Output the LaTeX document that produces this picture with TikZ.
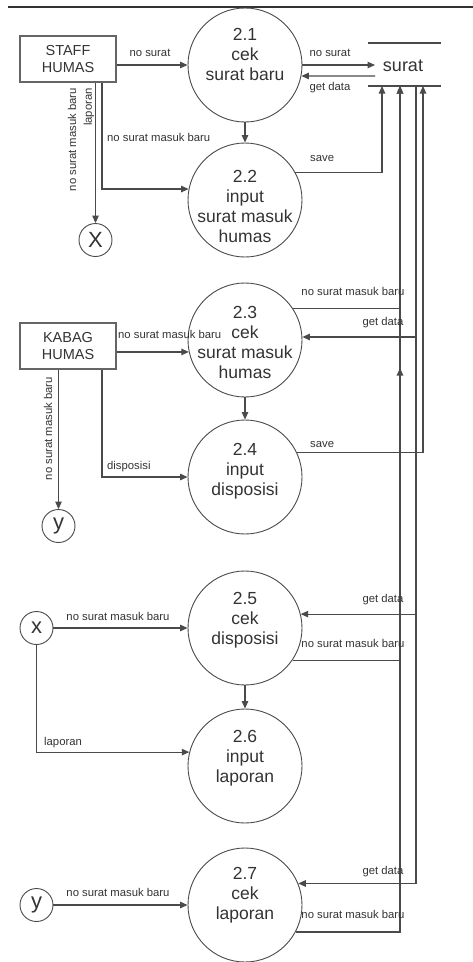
\documentclass[tikz,border=0pt]{standalone}
\usepackage{fontspec}
\setmainfont{Liberation Sans}
\usetikzlibrary{arrows.meta}
\definecolor{ln}{HTML}{4A4A4A}
\definecolor{tx}{HTML}{333333}
\begin{document}
\begin{tikzpicture}[x=1pt,y=-1pt,
  line/.style={draw=ln, line width=1.1pt},
  arr/.style={line, -{Triangle[length=7.5pt,width=6.5pt]}},
  proc/.style={circle, draw=ln, line width=0.9pt, minimum size=114pt, inner sep=0pt},
  ptext/.style={text=tx, align=center, font=\fontsize{17.5}{20}\selectfont},
  ent/.style={draw=ln!85, line width=1.3pt, minimum width=96pt, minimum height=46pt, inner sep=0pt, align=center, text=tx, font=\fontsize{14.5}{16.5}\selectfont},
  conn/.style={circle, draw=ln, line width=0.9pt, minimum size=33pt, inner sep=0pt, text=tx, font=\fontsize{22}{22}\selectfont},
  lbl/.style={text=tx, font=\fontsize{11.3}{12}\selectfont, inner sep=0pt},
]
\useasboundingbox (0,0) rectangle (473,962);
\draw[draw=tx, line width=2.5pt] (8,7) -- (473,7);

% processes
\node[proc] (p1) at (245,65) {};
\node[proc] (p2) at (245,200) {};
\node[proc] (p3) at (245,340) {};
\node[proc] (p4) at (245,477) {};
\node[proc] (p5) at (245,628) {};
\node[proc] (p6) at (245,766) {};
\node[proc] (p7) at (245,905) {};
\node[ptext] (t1) at (245,54) {2.1\\cek\\surat baru};
\node[ptext] (t2) at (245,206) {2.2\\input\\surat masuk\\humas};
\node[ptext] (t3) at (245,342) {2.3\\cek\\surat masuk\\humas};
\node[ptext] (t4) at (245,471) {2.4\\input\\disposisi};
\node[ptext] (t5) at (245,620) {2.5\\cek\\disposisi};
\node[ptext] (t6) at (245,758) {2.6\\input\\laporan};
\node[ptext] (t7) at (245,895) {2.7\\cek\\laporan};

% entities and connectors
\node[ent] (sh) at (68,59) {STAFF\\HUMAS};
\node[ent] (kh) at (68,346) {KABAG\\HUMAS};
\node[conn] (x1) at (95.5,240) {X};
\node[conn] (y1) at (58.5,526) {y};
\node[conn] (x2) at (36.5,628) {x};
\node[conn] (y2) at (36.5,905) {y};

% data store
\node[text=tx, font=\fontsize{18}{20}\selectfont] (ds) at (403,66) {surat};
\coordinate (dsl1) at (368,43);
\coordinate (dsr1) at (441,43);
\coordinate (dsl2) at (368,86);
\coordinate (dsr2) at (441,86);
\draw[line] (dsl1) -- (dsr1);
\draw[line] (dsl2) -- (dsr2);
\coordinate (dsin) at (375,65);
\coordinate (dsout) at (375,76);
\coordinate (ds1) at (382,86);
\coordinate (ds2) at (400,86);
\coordinate (ds3) at (416,86);
\coordinate (ds4) at (423,86);
\coordinate (m1) at (400,368);

% bends
\coordinate (b1) at (102,189);
\coordinate (b2) at (102,476);

% STAFF HUMAS flows
\draw[arr] (p1.west -| sh.east) -- (p1.west);
\draw[arr] (sh.south -| b1) |- (p2.169);
\draw[arr] (sh.south -| x1) -- (x1.north);
\draw[arr] (p1.south) -- (p2.north);
\draw[arr] (p1.east) -- (dsin);
\draw[arr] (dsout) -- (p1.-11);
\draw[arr] (p2.29) -| (ds1);

% KABAG HUMAS flows
\draw[arr] (p3.192 -| kh.east) -- (p3.192);
\draw[arr] (kh.south -| y1) -- (y1.north);
\draw[arr] (kh.south -| b2) |- (p4.west);
\draw[arr] (p3.south) -- (p4.north);
\draw[arr] (p3.33) -| (ds2);
\draw[arr] (p3.3 -| ds3) -- (p3.3);
\draw[arr] (p4.25) -| (ds4);

% lower flows
\draw[arr] (x2.east) -- (p5.west);
\draw[arr] (x2.south) |- (p6.166);
\draw[arr] (p5.south) -- (p6.north);
\draw[arr] (p5.14 -| ds3) -- (p5.14);
\draw[arr] (p5.-34) -| (m1);
\draw[arr] (y2.east) -- (p7.west);
\draw[arr] (ds3) |- (p7.22);
\draw[arr] (p7.-28) -| (ds2);

% labels
\node[lbl] (l1) at (150,53) {no surat};
\node[lbl, anchor=west] (l2) at (107,137) {no surat masuk baru};
\node[lbl, rotate=90, anchor=east] (l3) at (72,88) {no surat masuk baru};
\node[lbl, rotate=90, anchor=east] (l4) at (89,88) {laporan};
\node[lbl] (l5) at (330,53) {no surat};
\node[lbl] (l6) at (330,88) {get data};
\node[lbl, anchor=west] (l7) at (310,159) {save};
\node[lbl] (l8) at (353,291) {no surat masuk baru};
\node[lbl] (l9) at (383,323) {get data};
\node[lbl, anchor=west] (l10) at (118,334) {no surat masuk baru};
\node[lbl, rotate=90, anchor=east] (l11) at (48,377) {no surat masuk baru};
\node[lbl, anchor=west] (l12) at (107,467) {disposisi};
\node[lbl, anchor=west] (l13) at (310,445) {save};
\node[lbl] (l14) at (118,616) {no surat masuk baru};
\node[lbl] (l15) at (383,600) {get data};
\node[lbl] (l16) at (353,643) {no surat masuk baru};
\node[lbl, anchor=west] (l17) at (44,743) {laporan};
\node[lbl] (l18) at (383,872) {get data};
\node[lbl] (l19) at (353,914) {no surat masuk baru};
\node[lbl] (l20) at (118,892) {no surat masuk baru};
\end{tikzpicture}
\end{document}
